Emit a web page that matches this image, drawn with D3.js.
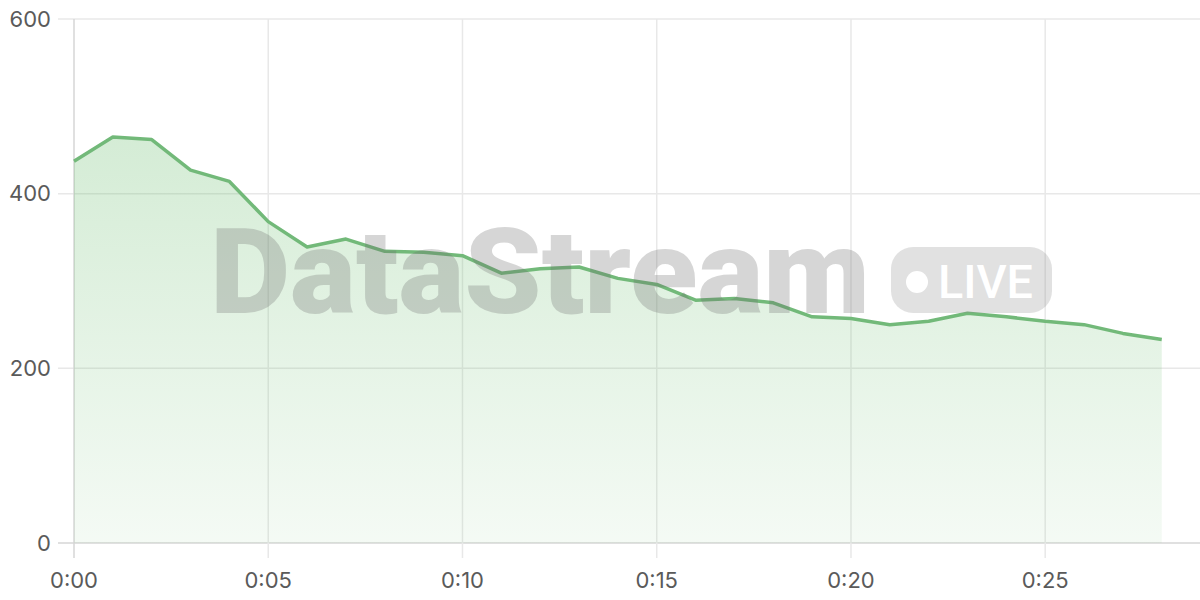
<!DOCTYPE html>
<html>
<head>
<meta charset="utf-8">
<script src="https://cdn.jsdelivr.net/npm/d3@7"></script>
<style>
  body { margin: 0; background: #fff; }
  svg { display: block; font-family: Inter, "DejaVu Sans", sans-serif; }
</style>
</head>
<body>
<div id="chart"></div>
<script>
// minutes since start, one reading per minute
let minutes = d3.range(0, 29);
let values = [437, 465, 462, 427, 414, 368, 339, 348, 334, 333,
              329, 309, 314, 316, 303, 296, 278, 280, 275, 259,
              257, 250, 254, 263, 259, 254, 250, 240, 233];
let yTicks = [0, 200, 400, 600];
let xTicks = [0, 5, 10, 15, 20, 25];

let width = 1200, height = 600;
let margin = { top: 19, right: 0, bottom: 57, left: 74 };

let svg = d3.select("#chart").append("svg")
    .attr("width", width)
    .attr("height", height);

let x = d3.scaleLinear()
    .domain([0, 29])
    .range([margin.left, 1200.6]);
let y = d3.scaleLinear()
    .domain([0, 600])
    .range([height - margin.bottom, margin.top]);

// gradient under the line
let defs = svg.append("defs");
let grad = defs.append("linearGradient")
    .attr("id", "fillGrad")
    .attr("x1", 0).attr("y1", 0).attr("x2", 0).attr("y2", 1);
grad.append("stop").attr("offset", "0%").attr("stop-color", "#66bb6a").attr("stop-opacity", 0.28);
grad.append("stop").attr("offset", "100%").attr("stop-color", "#66bb6a").attr("stop-opacity", 0.07);

// horizontal grid
svg.append("g")
    .selectAll("line")
    .data(yTicks)
    .enter().append("line")
    .attr("x1", margin.left - 16)
    .attr("x2", width)
    .attr("y1", d => y(d))
    .attr("y2", d => y(d))
    .attr("stroke", d => d === 0 ? "#d6d6d6" : "#e8e8e8")
    .attr("stroke-width", 1.5);

// vertical grid
svg.append("g")
    .selectAll("line")
    .data(xTicks)
    .enter().append("line")
    .attr("x1", d => x(d))
    .attr("x2", d => x(d))
    .attr("y1", margin.top)
    .attr("y2", height - margin.bottom + 15)
    .attr("stroke", d => d === 0 ? "#d6d6d6" : "#e8e8e8")
    .attr("stroke-width", 1.5);

// y labels
svg.append("g")
    .selectAll("text")
    .data(yTicks)
    .enter().append("text")
    .attr("x", 51)
    .attr("y", d => y(d))
    .attr("dy", "0.35em")
    .attr("text-anchor", "end")
    .attr("fill", "#5a5a5a")
    .attr("font-size", 22)
    .text(d => d);

// x labels
svg.append("g")
    .selectAll("text")
    .data(xTicks)
    .enter().append("text")
    .attr("x", d => x(d))
    .attr("y", 588)
    .attr("text-anchor", "middle")
    .attr("fill", "#5a5a5a")
    .attr("font-size", 22)
    .text(d => "0:" + String(d).padStart(2, "0"));

let pts = minutes.map((m, i) => ({ m: m, v: values[i] }));

let area = d3.area()
    .x(d => x(d.m))
    .y0(y(0))
    .y1(d => y(d.v));
let line = d3.line()
    .x(d => x(d.m))
    .y(d => y(d.v));

svg.append("path")
    .datum(pts)
    .attr("d", area)
    .attr("fill", "url(#fillGrad)");

svg.append("path")
    .datum(pts)
    .attr("d", line)
    .attr("fill", "none")
    .attr("stroke", "#72b979")
    .attr("stroke-width", 3.5)
    .attr("stroke-linejoin", "round");

// watermark
let wm = svg.append("g").attr("opacity", 0.28);
wm.append("text")
    .attr("x", 210)
    .attr("y", 313)
    .attr("font-size", 118)
    .attr("font-weight", "900")
    .attr("font-family", "Roboto, sans-serif")
    .attr("fill", "#6e6e6e")
    .attr("textLength", 660)
    .attr("lengthAdjust", "spacingAndGlyphs")
    .text("DataStream");

let pill = svg.append("g");
pill.append("rect")
    .attr("x", 891).attr("y", 247)
    .attr("width", 161).attr("height", 66)
    .attr("rx", 22)
    .attr("fill", "#8a8a8a")
    .attr("opacity", 0.26);
pill.append("circle")
    .attr("cx", 917).attr("cy", 282)
    .attr("r", 11)
    .attr("fill", "#fff");
pill.append("text")
    .attr("x", 938)
    .attr("y", 298)
    .attr("font-size", 47)
    .attr("font-weight", "500")
    .attr("font-family", "Roboto, sans-serif")
    .attr("fill", "#fff")
    .attr("textLength", 95)
    .attr("lengthAdjust", "spacingAndGlyphs")
    .text("LIVE");
</script>
</body>
</html>
